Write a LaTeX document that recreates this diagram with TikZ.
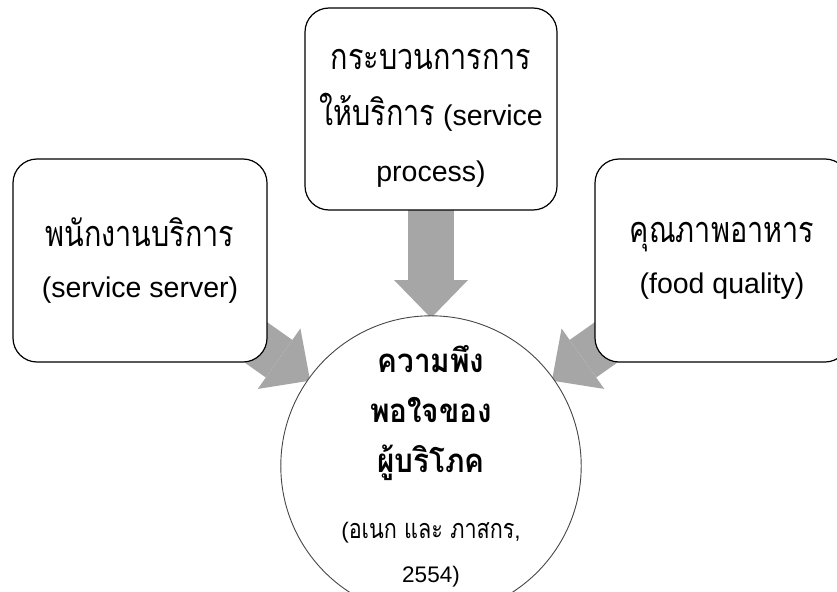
\documentclass[tikz,border=0pt]{standalone}
\usepackage{fontspec}
\setmainfont{Liberation Sans}
\newfontfamily\thai[Script=Thai,FakeStretch=0.8]{Loma}
\newfontfamily\thaibf[Script=Thai,FakeStretch=0.9]{Loma}
\usetikzlibrary{calc,backgrounds}
\definecolor{arrgray}{RGB}{166,166,166}
\definecolor{circline}{RGB}{70,70,70}
\newcommand{\thbig}[1]{{\thai\fontsize{36}{50}\selectfont #1}}
\newcommand{\thhead}[1]{{\thaibf\bfseries\fontsize{33}{50}\selectfont #1}}
\newcommand{\thsmall}[1]{{\thai\fontsize{27}{44}\selectfont #1}}
\tikzset{
  box/.style={draw=black, line width=1.2pt, rounded corners=24pt, fill=white,
    minimum width=254pt, minimum height=203pt, align=center, inner sep=0pt,
    font=\fontsize{28.5}{51}\selectfont},
  boxtext/.style={align=center, inner sep=0pt, font=\fontsize{28.5}{56}\selectfont},
  bubble/.style={circle, draw=circline, line width=0.9pt, fill=white,
    minimum size=268pt, inner sep=0pt, align=center,
    font=\fontsize{22.5}{50}\selectfont},
  shaft/.style={draw=arrgray, line width=46pt},
  head/.style={fill=arrgray}
}
\begin{document}
\begin{tikzpicture}[x=1pt,y=-1pt]
\useasboundingbox (0,0) rectangle (837,591);
\clip (0,0) rectangle (837,591);
\node[box] (L) at (140,260.5) {\thbig{พนักงานบริการ}\\(service server)};
\node[box, minimum width=252pt, minimum height=202pt] (M) at (431,109) {};
\node[boxtext] (Mt) at ($(M.center)+(0,9)$)
  {\thbig{กระบวนการการ}\\\thbig{ให้บริการ} (service\\process)};
\node[box] (R) at (722,260.5) {\thbig{คุณภาพอาหาร}\\(food quality)};
\node[bubble] (C) at (431,466)
  {\thhead{ความพึง}\\
   \thhead{พอใจของ}\\
   \thhead{ผู้บริโภค}\\[16pt]
   (\thsmall{อเนก และ ภาสกร},\\[-6pt]
   2554)};
\begin{scope}[on background layer]
\foreach \n in {L,M,R} {
  \coordinate (tip\n) at ($(C)!148pt!(\n.center)$);
  \coordinate (base\n) at ($(C)!186pt!(\n.center)$);
  \draw[shaft] (\n.center) -- (base\n);
  \fill[head] (tip\n) -- ($(base\n)!37pt!90:(tip\n)$) -- ($(base\n)!37pt!-90:(tip\n)$) -- cycle;
}
\end{scope}
\end{tikzpicture}
\end{document}
